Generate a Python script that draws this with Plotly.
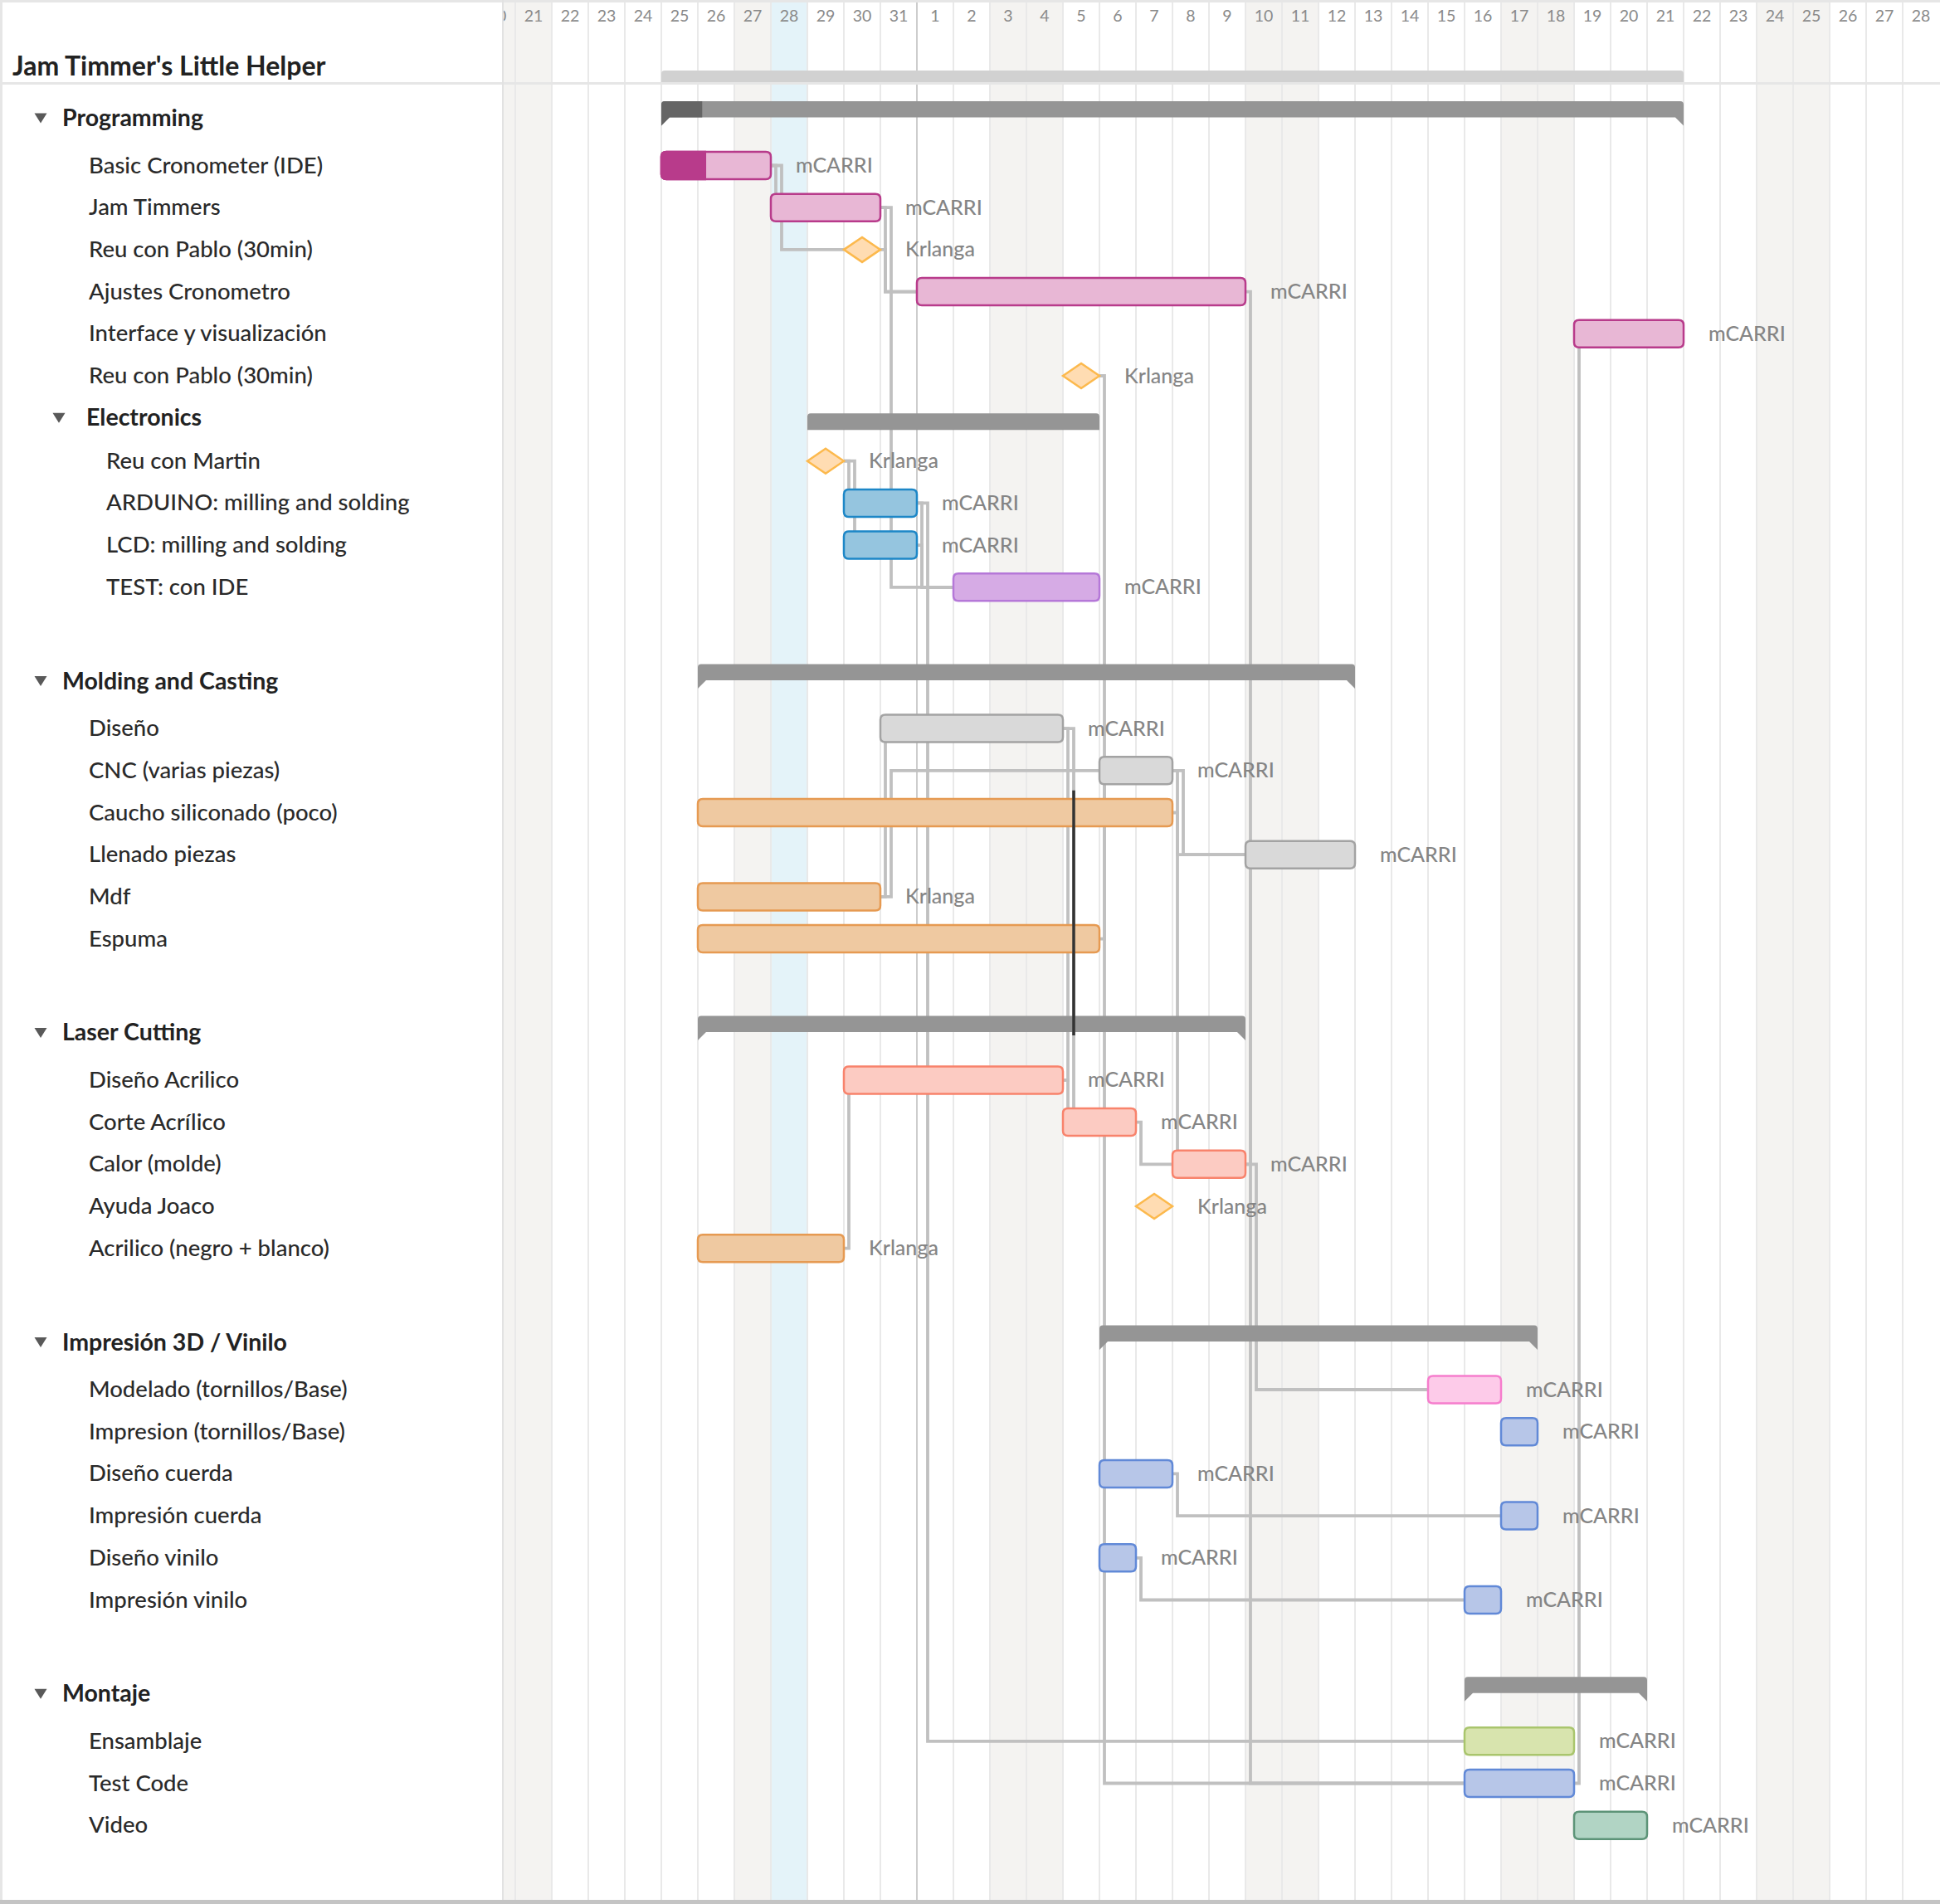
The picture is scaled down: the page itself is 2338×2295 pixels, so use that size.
import plotly.graph_objects as go
from datetime import date, timedelta

# ============================ DATA ============================
chart_title = "Jam Timmer's Little Helper"
view_start = "2018-01-20"      # first (partly hidden) day column
view_days = 40
today = "2018-01-28"

group_names = ["Programming", "Electronics", "Molding and Casting",
               "Laser Cutting", "Impresión 3D / Vinilo", "Montaje"]
group_parent = ["", "Programming", "", "", "", ""]
group_progress = [0.04, 0.0, 0.0, 0.0, 0.0, 0.0]

task_ids = ["basic", "jam", "reu1", "ajustes", "interface", "reu2",
            "martin", "arduino", "lcd", "test",
            "diseno", "cnc", "caucho", "llenado", "mdf", "espuma",
            "dacril", "corte", "calor", "ayuda", "acril",
            "modelado", "impr", "dcuerda", "icuerda", "dvinilo", "ivinilo",
            "ensam", "testcode", "video"]
task_names = ["Basic Cronometer (IDE)", "Jam Timmers", "Reu con Pablo (30min)",
              "Ajustes Cronometro", "Interface y visualización", "Reu con Pablo (30min)",
              "Reu con Martin", "ARDUINO: milling and solding", "LCD: milling and solding",
              "TEST: con IDE",
              "Diseño", "CNC (varias piezas)", "Caucho siliconado (poco)", "Llenado piezas",
              "Mdf", "Espuma",
              "Diseño Acrilico", "Corte Acrílico", "Calor (molde)", "Ayuda Joaco",
              "Acrilico (negro + blanco)",
              "Modelado (tornillos/Base)", "Impresion (tornillos/Base)", "Diseño cuerda",
              "Impresión cuerda", "Diseño vinilo", "Impresión vinilo",
              "Ensamblaje", "Test Code", "Video"]
task_groups = (["Programming"] * 6 + ["Electronics"] * 4 + ["Molding and Casting"] * 6
               + ["Laser Cutting"] * 5 + ["Impresión 3D / Vinilo"] * 6 + ["Montaje"] * 3)
task_starts = ["2018-01-25", "2018-01-28", "2018-01-30", "2018-02-01", "2018-02-19", "2018-02-05",
               "2018-01-29", "2018-01-30", "2018-01-30", "2018-02-02",
               "2018-01-31", "2018-02-06", "2018-01-26", "2018-02-10", "2018-01-26", "2018-01-26",
               "2018-01-30", "2018-02-05", "2018-02-08", "2018-02-07", "2018-01-26",
               "2018-02-15", "2018-02-17", "2018-02-06", "2018-02-17", "2018-02-06", "2018-02-16",
               "2018-02-16", "2018-02-16", "2018-02-19"]
task_days = [3, 3, 0, 9, 3, 0,          # 0 = milestone
             0, 2, 2, 4,
             5, 2, 13, 3, 5, 11,
             6, 2, 2, 0, 4,
             2, 1, 2, 1, 1, 1,
             3, 3, 2]
task_owners = ["mCARRI", "mCARRI", "Krlanga", "mCARRI", "mCARRI", "Krlanga",
               "Krlanga", "mCARRI", "mCARRI", "mCARRI",
               "mCARRI", "mCARRI", "", "mCARRI", "Krlanga", "",
               "mCARRI", "mCARRI", "mCARRI", "Krlanga", "Krlanga",
               "mCARRI", "mCARRI", "mCARRI", "mCARRI", "mCARRI", "mCARRI",
               "mCARRI", "mCARRI", "mCARRI"]
task_progress = [0.4] + [0.0] * 29

dep_from = ["basic", "basic", "jam", "jam", "reu1", "ajustes", "reu2",
            "martin", "martin", "arduino", "arduino", "lcd", "testcode",
            "mdf", "mdf", "espuma", "diseno", "diseno", "cnc", "cnc", "caucho",
            "calor", "calor", "acril", "dacril", "corte", "dcuerda", "dvinilo"]
dep_to = ["jam", "reu1", "ajustes", "test", "ajustes", "testcode", "testcode",
          "arduino", "lcd", "test", "ensam", "test", "interface",
          "diseno", "cnc", "cnc", "dacril", "corte", "calor", "llenado", "llenado",
          "llenado", "modelado", "dacril", "corte", "calor", "icuerda", "ivinilo"]
highlight_dep = ("diseno", "corte")
highlight_rows = ("caucho", "Laser Cutting")

# ============================ STYLE ============================
W, H = 2338, 2295
PANEL = 607
RIGHT_PAD = 1
VIEW_OFFSET = 0.682
PXD = (W - PANEL - RIGHT_PAD) / (view_days - VIEW_OFFSET)   # pixels per day

FONT = "Lato"
FIRST_GROUP_Y = 142.5
HEADER_TO_TASK = 57.0
PITCH = 50.7
GROUP_GAP = 113.3
SUB_TO_TASK = 52.0
TEXT_DY = -1.5

BAR_H = 33
BAR_R = 6
BAR_LW = 2.5
DIA_W, DIA_H = 44, 30
LABEL_GAP = 28
STUB0, STUB_STEP = 6, 7

WEEKEND = "#f4f3f1"
TODAY = "#e4f3f9"
GRID = "#e9e9e9"
MONTH_LINE = "#cdcdcd"
DEP_COLOR = "#c0c0c0"
GROUP_BAR = "#959595"
GROUP_PROG = "#656565"
PROJECT_BAR = "#d1d1d1"

PALETTE = {
    "magenta": ("#e8b7d5", "#b83b8b"),
    "blue": ("#95c5df", "#1d87c7"),
    "purple": ("#d6abe5", "#b578d8"),
    "gray": ("#d9d9d9", "#a3a3a3"),
    "orange": ("#efc9a1", "#e69a52"),
    "salmon": ("#fccbc2", "#f8836c"),
    "pink": ("#fdcbe9", "#f67dcd"),
    "lavender": ("#b7c6e8", "#6189d7"),
    "green": ("#d8e4ae", "#a9c56d"),
    "teal": ("#b1d4c4", "#5d9478"),
    "milestone": ("#ffdcb2", "#fcb94d"),
}
TASK_THEME = {
    "basic": "magenta", "jam": "magenta", "ajustes": "magenta", "interface": "magenta",
    "arduino": "blue", "lcd": "blue", "test": "purple",
    "diseno": "gray", "cnc": "gray", "llenado": "gray",
    "caucho": "orange", "mdf": "orange", "espuma": "orange", "acril": "orange",
    "dacril": "salmon", "corte": "salmon", "calor": "salmon",
    "modelado": "pink", "impr": "lavender", "dcuerda": "lavender", "icuerda": "lavender",
    "dvinilo": "lavender", "ivinilo": "lavender",
    "ensam": "green", "testcode": "lavender", "video": "teal",
}

# ============================ LAYOUT OF ROWS ============================
d0 = date.fromisoformat(view_start)


def day_index(s):
    return (date.fromisoformat(s) - d0).days


rows = []
for gi, g in enumerate(group_names):
    if group_parent[gi]:
        continue
    rows.append(("group", g))
    for tid, tg in zip(task_ids, task_groups):
        if tg == g:
            rows.append(("task", tid))
    for gj, sg in enumerate(group_names):
        if group_parent[gj] == g:
            rows.append(("sub", sg))
            for tid, tg in zip(task_ids, task_groups):
                if tg == sg:
                    rows.append(("subtask", tid))

row_y = {}
prev = None
y = 0
for kind, key in rows:
    if prev is None:
        y = FIRST_GROUP_Y
    elif kind == "group":
        y += GROUP_GAP
    elif prev == "group":
        y += HEADER_TO_TASK
    elif prev == "sub":
        y += SUB_TO_TASK
    else:
        y += PITCH
    row_y[key] = y
    prev = kind

T = {}
for i, tid in enumerate(task_ids):
    s = day_index(task_starts[i])
    ms = task_days[i] == 0
    T[tid] = dict(i=i, s=s, e=s + (1 if ms else task_days[i]), ms=ms, y=row_y[tid])


def task_out_x(t):
    return (t["s"] + 0.5 + DIA_W / 2 / PXD) if t["ms"] else t["e"]


def task_in_x(t):
    return (t["s"] + 0.5 - DIA_W / 2 / PXD) if t["ms"] else t["s"]


def group_members(g):
    subs = [sg for j, sg in enumerate(group_names) if group_parent[j] == g]
    return [tid for tid, tg in zip(task_ids, task_groups) if tg == g or tg in subs]


def f(v):
    return f"{v:.4f}"


def rrect(x0, x1, y0, y1, r, left=True, right=True):
    rx = r / PXD
    p = [f"M {f(x0 + rx if left else x0)},{f(y0)}"]
    if right:
        p.append(f"L {f(x1 - rx)},{f(y0)} Q {f(x1)},{f(y0)} {f(x1)},{f(y0 + r)}")
        p.append(f"L {f(x1)},{f(y1 - r)} Q {f(x1)},{f(y1)} {f(x1 - rx)},{f(y1)}")
    else:
        p.append(f"L {f(x1)},{f(y0)} L {f(x1)},{f(y1)}")
    if left:
        p.append(f"L {f(x0 + rx)},{f(y1)} Q {f(x0)},{f(y1)} {f(x0)},{f(y1 - r)}")
        p.append(f"L {f(x0)},{f(y0 + r)} Q {f(x0)},{f(y0)} {f(x0 + rx)},{f(y0)} Z")
    else:
        p.append(f"L {f(x0)},{f(y1)} Z")
    return " ".join(p)


def group_path(x0, x1, yt, yb, brackets, xp=None, r=4, tw=10, th=10):
    rx, tx = r / PXD, tw / PXD
    if xp is not None:  # progress part (left end only)
        return (f"M {f(x0)},{f(yb + th)} L {f(x0)},{f(yt + r)} Q {f(x0)},{f(yt)} {f(x0 + rx)},{f(yt)} "
                f"L {f(xp)},{f(yt)} L {f(xp)},{f(yb)} L {f(x0 + tx)},{f(yb)} Z")
    if brackets:
        return (f"M {f(x0)},{f(yb + th)} L {f(x0)},{f(yt + r)} Q {f(x0)},{f(yt)} {f(x0 + rx)},{f(yt)} "
                f"L {f(x1 - rx)},{f(yt)} Q {f(x1)},{f(yt)} {f(x1)},{f(yt + r)} L {f(x1)},{f(yb + th)} "
                f"L {f(x1 - tx)},{f(yb)} L {f(x0 + tx)},{f(yb)} Z")
    return (f"M {f(x0)},{f(yb)} L {f(x0)},{f(yt + r)} Q {f(x0)},{f(yt)} {f(x0 + rx)},{f(yt)} "
            f"L {f(x1 - rx)},{f(yt)} Q {f(x1)},{f(yt)} {f(x1)},{f(yt + r)} L {f(x1)},{f(yb)} Z")


shapes = []
annotations = []

# ---- background columns (weekends / today) and month boundary
td = date.fromisoformat(today)
for i in range(view_days):
    d = d0 + timedelta(days=i)
    if d == td:
        col = TODAY
    elif d.weekday() >= 5:
        col = WEEKEND
    else:
        col = None
    if col:
        shapes.append(dict(type="rect", xref="x", yref="y", x0=i, x1=i + 1, y0=0, y1=H,
                           fillcolor=col, line_width=0, layer="below"))
    if d.day == 1 and i > 0:
        shapes.append(dict(type="line", xref="x", yref="y", x0=i, x1=i, y0=0, y1=H,
                           line=dict(color=MONTH_LINE, width=2), layer="between"))

# ---- frame lines
shapes += [
    dict(type="rect", xref="paper", yref="y", x0=0, x1=1, y0=0, y1=3,
         fillcolor="#e6e6e6", line_width=0, layer="above"),
    dict(type="rect", xref="paper", yref="y", x0=0, x1=1, y0=99, y1=102,
         fillcolor="#e6e6e6", line_width=0, layer="above"),
    dict(type="rect", xref="paper", yref="y", x0=0, x1=3 / W, y0=0, y1=H,
         fillcolor="#e6e6e6", line_width=0, layer="above"),
    dict(type="rect", xref="paper", yref="y", x0=(PANEL - 2) / W, x1=PANEL / W, y0=0, y1=H,
         fillcolor="#e2e2e2", line_width=0, layer="above"),
    dict(type="rect", xref="paper", yref="y", x0=0, x1=1, y0=H - 5, y1=H,
         fillcolor="#c4c4c4", line_width=0, layer="above"),
]

# ---- dependency connectors
dep_x, dep_y = [], []
out_count = {}
dep_stub = {}
for a, b in zip(dep_from, dep_to):
    ta, tb = T[a], T[b]
    k = out_count.get(a, 0)
    out_count[a] = k + 1
    xa = task_out_x(ta)
    sx = xa + (STUB0 + STUB_STEP * k) / PXD
    dep_stub[(a, b)] = sx
    dep_x += [xa, sx, sx, task_in_x(tb), None]
    dep_y += [ta["y"], ta["y"], tb["y"], tb["y"], None]

fig = go.Figure()
fig.add_trace(go.Scatter(x=dep_x, y=dep_y, mode="lines", xaxis="x", yaxis="y",
                         line=dict(color=DEP_COLOR, width=3.8), hoverinfo="skip",
                         showlegend=False))

# ---- day header labels (clipped to the timeline)
day_x = [i + 0.5 for i in range(view_days)]
day_txt = [str((d0 + timedelta(days=i)).day) for i in range(view_days)]
fig.add_trace(go.Scatter(x=day_x, y=[21.5] * view_days, text=day_txt, mode="text",
                         xaxis="x", yaxis="y", cliponaxis=True, hoverinfo="skip",
                         textfont=dict(family=FONT, size=19.5, color="#8a8a8a"),
                         showlegend=False))

# ---- project summary bar
ps = min(t["s"] for t in T.values())
pe = max(t["e"] for t in T.values())
shapes.append(dict(type="path", xref="x", yref="y", layer="above",
                   path=group_path(ps, pe, 85, 99, brackets=False, r=4),
                   fillcolor=PROJECT_BAR, line_width=0))

# ---- group bars
for gi, g in enumerate(group_names):
    mem = group_members(g)
    gs = min(T[m]["s"] for m in mem)
    ge = max(T[m]["e"] for m in mem)
    gy = row_y[g]
    top = group_parent[gi] == ""
    if top:
        yt, yb = gy - 20.5, gy - 1
    else:
        yt, yb = gy - 5.5, gy + 14.5
    shapes.append(dict(type="path", xref="x", yref="y", layer="above",
                       path=group_path(gs, ge, yt, yb, brackets=top),
                       fillcolor=GROUP_BAR, line_width=0))
    if group_progress[gi] > 0:
        xp = gs + group_progress[gi] * (ge - gs)
        shapes.append(dict(type="path", xref="x", yref="y", layer="above",
                           path=group_path(gs, ge, yt, yb, brackets=top, xp=xp),
                           fillcolor=GROUP_PROG, line_width=0))

# ---- task bars / milestones and owner labels
for tid in task_ids:
    t = T[tid]
    i = t["i"]
    yc = t["y"]
    if t["ms"]:
        fill, line = PALETTE["milestone"]
        cx = t["s"] + 0.5
        hw = DIA_W / 2 / PXD
        path = (f"M {f(cx - hw)},{f(yc)} L {f(cx)},{f(yc - DIA_H / 2)} "
                f"L {f(cx + hw)},{f(yc)} L {f(cx)},{f(yc + DIA_H / 2)} Z")
        shapes.append(dict(type="path", xref="x", yref="y", layer="above", path=path,
                           fillcolor=fill, line=dict(color=line, width=2.5)))
    else:
        fill, line = PALETTE[TASK_THEME[tid]]
        y0, y1 = yc - BAR_H / 2, yc + BAR_H / 2
        shapes.append(dict(type="path", xref="x", yref="y", layer="above",
                           path=rrect(t["s"], t["e"], y0, y1, BAR_R),
                           fillcolor=fill, line=dict(color=line, width=BAR_LW)))
        if task_progress[i] > 0:
            xp = t["s"] + task_progress[i] * (t["e"] - t["s"])
            shapes.append(dict(type="path", xref="x", yref="y", layer="above",
                               path=rrect(t["s"], xp, y0, y1, BAR_R, right=False),
                               fillcolor=line, line=dict(color=line, width=BAR_LW)))
    if task_owners[i]:
        annotations.append(dict(xref="x", yref="y", x=t["e"] + LABEL_GAP / PXD, y=yc + TEXT_DY,
                                text=task_owners[i], showarrow=False, xanchor="left",
                                yanchor="middle",
                                font=dict(family=FONT, size=25, color="#858585", weight=500)))

# ---- highlighted connector segment
hx = dep_stub[highlight_dep]
hy0 = row_y[highlight_rows[0]] - 0.53 * PITCH
hy1 = row_y[highlight_rows[1]] + 3
shapes.append(dict(type="line", xref="x", yref="y", x0=hx, x1=hx, y0=hy0, y1=hy1,
                   line=dict(color="#333333", width=3.5), layer="above"))

# ---- left panel: title, group and task names
annotations.append(dict(xref="x2", yref="y", x=13, y=80 + TEXT_DY, text=f"<b>{chart_title}</b>",
                        showarrow=False, xanchor="left", yanchor="middle",
                        font=dict(family=FONT, size=32, color="#222222")))
for kind, key in rows:
    yy = row_y[key]
    if kind in ("group", "sub"):
        tx = 73 if kind == "group" else 101.5
        cx = 49 if kind == "group" else 71
        shapes.append(dict(type="path", xref="x2", yref="y", layer="above",
                           path=f"M {cx - 7.5},{yy - 6} L {cx + 7.5},{yy - 6} L {cx},{yy + 6} Z",
                           fillcolor="#595959", line_width=0))
        annotations.append(dict(xref="x2", yref="y", x=tx, y=yy + TEXT_DY, text=f"<b>{key}</b>",
                                showarrow=False, xanchor="left", yanchor="middle",
                                font=dict(family=FONT, size=28.5, color="#222222")))
    else:
        tx = 104.5 if kind == "task" else 125.5
        annotations.append(dict(xref="x2", yref="y", x=tx, y=yy + TEXT_DY,
                                text=task_names[T[key]["i"]],
                                showarrow=False, xanchor="left", yanchor="middle",
                                font=dict(family=FONT, size=27.5, color="#2a2a2a", weight=500)))

fig.update_layout(
    width=W, height=H, autosize=False,
    margin=dict(l=0, r=0, t=0, b=0, pad=0),
    paper_bgcolor="white", plot_bgcolor="white",
    showlegend=False, hovermode=False,
    xaxis=dict(domain=[PANEL / W, 1 - RIGHT_PAD / W], range=[VIEW_OFFSET, view_days],
               anchor="y", showgrid=True, gridcolor=GRID, gridwidth=2,
               tickvals=list(range(1, view_days)), showticklabels=False, ticks="",
               zeroline=False, showline=False, fixedrange=True),
    xaxis2=dict(domain=[0, PANEL / W], range=[0, PANEL], anchor="y", visible=False,
                showgrid=False, zeroline=False, fixedrange=True),
    yaxis=dict(domain=[0, 1], range=[H, 0], anchor="x", visible=False,
               showgrid=False, zeroline=False, fixedrange=True),
    shapes=shapes, annotations=annotations,
)

fig.write_html("out.html", config={"displayModeBar": False},
               post_script="document.body.style.margin='0';document.body.style.overflow='hidden';")
